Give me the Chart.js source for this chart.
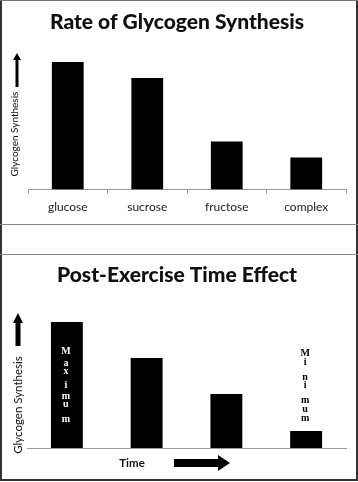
<!DOCTYPE html>
<html><head><meta charset="utf-8">
<script src="https://cdn.jsdelivr.net/npm/chart.js@4"></script>
<style>
html,body{margin:0;padding:0;background:#fff;}
#wrap{position:relative;width:358px;height:482px;overflow:hidden;background:#fff;}
canvas{position:absolute;left:0;}
.ln{position:absolute;background:#666;}
</style></head><body>
<div id="wrap">
<canvas id="c1" width="358" height="224" style="top:0"></canvas>
<canvas id="c2" width="358" height="228" style="top:254px"></canvas>
<div class="ln" style="left:0;top:0;width:2px;height:481px;background:#333"></div>
<div class="ln" style="left:356px;top:0;width:2px;height:481px;background:#333"></div>
<div class="ln" style="left:0;top:0;width:358px;height:1px;background:#777"></div>
<div class="ln" style="left:0;top:224px;width:358px;height:1px;background:#888"></div>
<div class="ln" style="left:0;top:254px;width:358px;height:1px;background:#888"></div>
<div class="ln" style="left:0;top:479px;width:358px;height:2px;background:#333"></div>
</div>
<script>
// ---- data ----
const title1 = "Rate of Glycogen Synthesis";
const categories1 = ["glucose", "sucrose", "fructose", "complex"];
const values1 = [127, 111, 48, 32];
const yTitle1 = "Glycogen Synthesis";

const title2 = "Post-Exercise Time Effect";
const categories2 = ["1", "2", "3", "4"];
const values2 = [126, 90, 54, 17];
const yTitle2 = "Glycogen Synthesis";
const xTitle2 = "Time";
const maxLabel = "Maximum";
const minLabel = "Minimum";

const FONT = "Lato, 'Open Sans', sans-serif";

function upArrow(ctx, x, yTip, yBot, shaft, headW, headH) {
  ctx.save(); ctx.fillStyle = "#000";
  ctx.beginPath();
  ctx.moveTo(x, yTip);
  ctx.lineTo(x + headW/2, yTip + headH);
  ctx.lineTo(x + shaft/2, yTip + headH);
  ctx.lineTo(x + shaft/2, yBot);
  ctx.lineTo(x - shaft/2, yBot);
  ctx.lineTo(x - shaft/2, yTip + headH);
  ctx.lineTo(x - headW/2, yTip + headH);
  ctx.closePath(); ctx.fill(); ctx.restore();
}
function rightArrow(ctx, xL, xTip, y, shaft, headW, headH) {
  ctx.save(); ctx.fillStyle = "#000";
  ctx.beginPath();
  ctx.moveTo(xTip, y);
  ctx.lineTo(xTip - headH, y - headW/2);
  ctx.lineTo(xTip - headH, y - shaft/2);
  ctx.lineTo(xL, y - shaft/2);
  ctx.lineTo(xL, y + shaft/2);
  ctx.lineTo(xTip - headH, y + shaft/2);
  ctx.lineTo(xTip - headH, y + headW/2);
  ctx.closePath(); ctx.fill(); ctx.restore();
}
function vText(ctx, text, x, y, size, weight) {
  ctx.save();
  ctx.translate(x, y); ctx.rotate(-Math.PI/2);
  ctx.font = weight + " " + size + "px " + FONT;
  ctx.fillStyle = "#111"; ctx.textAlign = "center"; ctx.textBaseline = "middle";
  ctx.fillText(text, 0, 0);
  ctx.restore();
}
function stackText(ctx, text, x, ys, color) {
  ctx.save();
  ctx.font = "bold 10px 'Liberation Serif', serif";
  ctx.fillStyle = color; ctx.textAlign = "center"; ctx.textBaseline = "middle";
  for (let i = 0; i < text.length; i++) ctx.fillText(text[i], x, ys[i]);
  ctx.restore();
}

const deco1 = {
  id: "deco1",
  afterDraw(chart) {
    const ctx = chart.ctx;
    ctx.save();
    ctx.font = "900 21px " + FONT;
    ctx.fillStyle = "#111"; ctx.textAlign = "center"; ctx.textBaseline = "middle";
    ctx.fillText(title1, 177, 22);
    ctx.restore();
    vText(ctx, yTitle1, 15, 134, 10, "normal");
    upArrow(ctx, 17, 53, 87, 3, 8, 7);
  }
};
const deco2 = {
  id: "deco2",
  afterDraw(chart) {
    const ctx = chart.ctx;
    ctx.save();
    ctx.font = "900 21px " + FONT;
    ctx.fillStyle = "#111"; ctx.textAlign = "center"; ctx.textBaseline = "middle";
    ctx.fillText(title2, 177, 21);
    ctx.font = "bold 11.5px " + FONT;
    ctx.fillText(xTitle2, 132, 209);
    ctx.restore();
    vText(ctx, yTitle2, 18, 151, 11.5, "normal");
    upArrow(ctx, 18, 59, 92, 5, 10, 10);
    rightArrow(ctx, 174, 230, 209, 8, 16, 12);
    const meta = chart.getDatasetMeta(0);
    const x0 = meta.data[0].x, x3 = meta.data[3].x;
    const yMax = [97.7, 109.3, 117.3, 131.7, 142, 150.3, 165];
    const yMin = [99, 108, 123, 131, 146, 155, 164];
    stackText(ctx, maxLabel, x0 - 1, yMax, "#fff");
    stackText(ctx, minLabel, x3 - 1, yMin, "#000");
  }
};

new Chart(document.getElementById("c1"), {
  type: "bar",
  data: { labels: categories1, datasets: [{ data: values1, backgroundColor: "#000", barPercentage: 0.4, categoryPercentage: 1 }] },
  options: {
    responsive: false, animation: false,
    layout: { padding: { left: 28, right: 12, top: 49, bottom: 4 } },
    plugins: { legend: { display: false }, tooltip: { enabled: false } },
    scales: {
      x: {
        grid: { display: true, drawOnChartArea: false, drawTicks: true, tickLength: 4, color: "#999", offset: true },
        border: { display: true, color: "#999" },
        ticks: { color: "#222", padding: 6, font: { family: FONT, size: 12 } }
      },
      y: { display: false, min: 0, max: 140 }
    }
  },
  plugins: [deco1]
});

new Chart(document.getElementById("c2"), {
  type: "bar",
  data: { labels: categories2, datasets: [{ data: values2, backgroundColor: "#000", barPercentage: 0.4, categoryPercentage: 1 }] },
  options: {
    responsive: false, animation: false,
    layout: { padding: { left: 27, right: 12, top: 54, bottom: 34 } },
    plugins: { legend: { display: false }, tooltip: { enabled: false } },
    scales: {
      x: {
        grid: { display: false, drawTicks: false },
        border: { display: true, color: "#999" },
        ticks: { display: false }
      },
      y: { display: false, min: 0, max: 140 }
    }
  },
  plugins: [deco2]
});
</script>
</body></html>
